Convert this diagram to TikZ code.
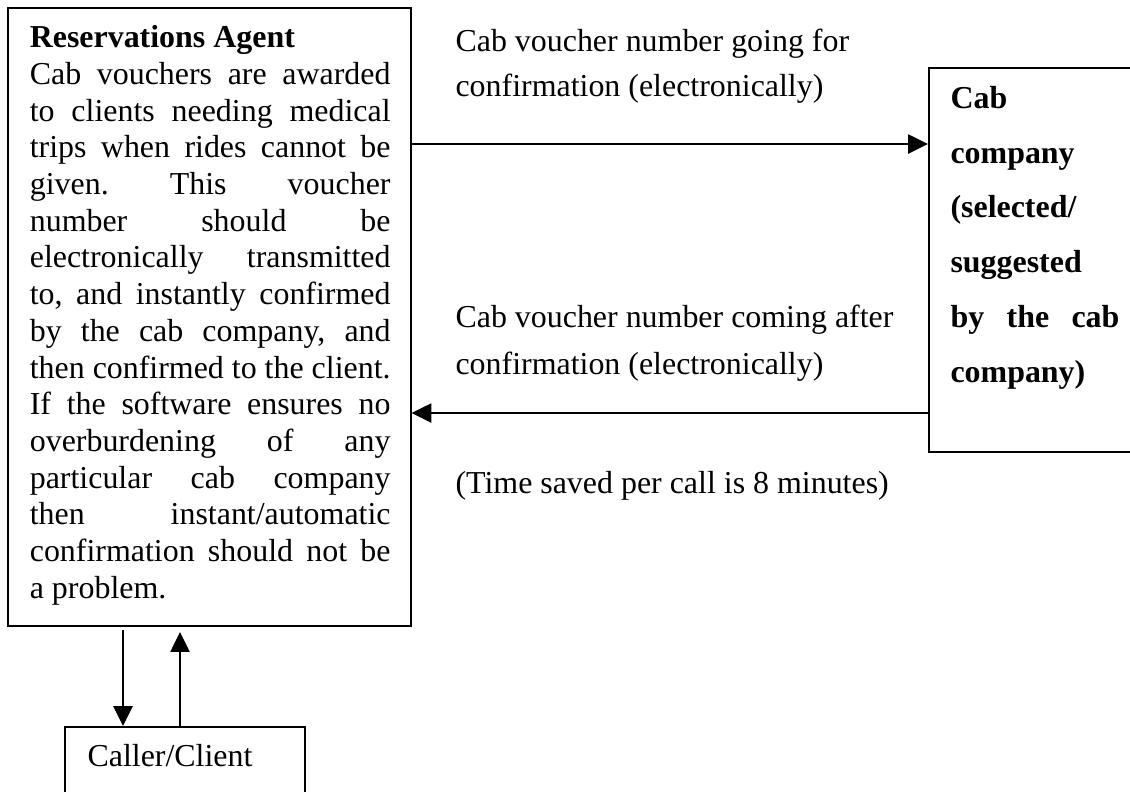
\documentclass[tikz,border=0pt]{standalone}
\usepackage{fontspec}
\setmainfont{Liberation Serif}
\usetikzlibrary{arrows.meta,fit}
\frenchspacing
% widths of the two justified text blocks
\newlength\agentw \setlength\agentw{135.6pt}
\newlength\cabw   \setlength\cabw{63.5pt}
% one justified line: the word gaps share the free space evenly
\newcommand{\jline}[2]{\leavevmode\hbox to #1{\spaceskip=0pt plus 1fil\xspaceskip=0pt plus 1fil\relax #2}}
% plain word spaces of the font
\newcommand{\plainspaces}{\spaceskip=0pt\xspaceskip=0pt\relax}

\begin{document}
\begin{tikzpicture}[x=0.3759pt,y=-0.3759pt,
  box/.style={draw, line width=0.75pt, inner sep=0pt},
  arr/.style={line width=0.75pt, -{Triangle[length=7.5pt,width=7.2pt]}},
  txt/.style={inner sep=0pt, anchor=base west},
]
\clip (0,0) rectangle (1130,791);
\fill[white] (0,0) rectangle (1130,791);

% boxes
\node[box, fit={(8,8) (410.5,626)}] (agent) {};
\node[box, fit={(929,68) (1145,452)}] (cab) {};
\node[box, fit={(65,727) (305,810)}] (caller) {};

% box texts
\node[txt, text width=\agentw, font=\fontsize{12}{13.8}\selectfont] (agenttext) at (29.3,47.7) {\plainspaces
\textbf{Reservations Agent}\\
\jline\agentw{Cab vouchers are awarded}\\
\jline\agentw{to clients needing medical}\\
\jline\agentw{trips when rides cannot be}\\
\jline\agentw{given. This voucher}\\
\jline\agentw{number should be}\\
\jline\agentw{electronically transmitted}\\
\jline\agentw{to, and instantly confirmed}\\
\jline\agentw{by the cab company, and}\\
\jline\agentw{then confirmed to the client.}\\
\jline\agentw{If the software ensures no}\\
\jline\agentw{overburdening of any}\\
\jline\agentw{particular cab company}\\
\jline\agentw{then instant/automatic}\\
\jline\agentw{confirmation should not be}\\
a problem.};

\node[txt, text width=\cabw, font=\bfseries\fontsize{12}{20.6}\selectfont] (cabtext) at (950,108.3) {\plainspaces
Cab\\
company\\
(selected/\\
suggested\\
\jline\cabw{by the cab}\\
company)};

\node[txt, font=\fontsize{12}{14}\selectfont] (callertext) at (87,766) {Caller/Client};

% flow labels
\node[txt, text width=170pt, font=\fontsize{12}{17}\selectfont] (lblgo) at (455,51) {\plainspaces
Cab voucher number going for\\
confirmation (electronically)};
\node[txt, text width=170pt, font=\fontsize{12}{18}\selectfont] (lblcome) at (455,327) {\plainspaces
Cab voucher number coming after\\
confirmation (electronically)};
\node[txt, font=\fontsize{12}{14}\selectfont] (lbltime) at (455,493) {(Time saved per call is 8 minutes)};

% connectors
\coordinate (ygo) at (0,144);
\coordinate (ycome) at (0,413);
\coordinate (dn) at (123,630);
\coordinate (up) at (180,632);
\draw[arr] (agent.east |- ygo) -- (cab.west |- ygo);
\draw[arr] (cab.west |- ycome) -- (agent.east |- ycome);
\draw[arr] (dn) -- (dn |- caller.north);
\draw[arr] (up |- caller.north) -- (up);
\end{tikzpicture}
\end{document}
